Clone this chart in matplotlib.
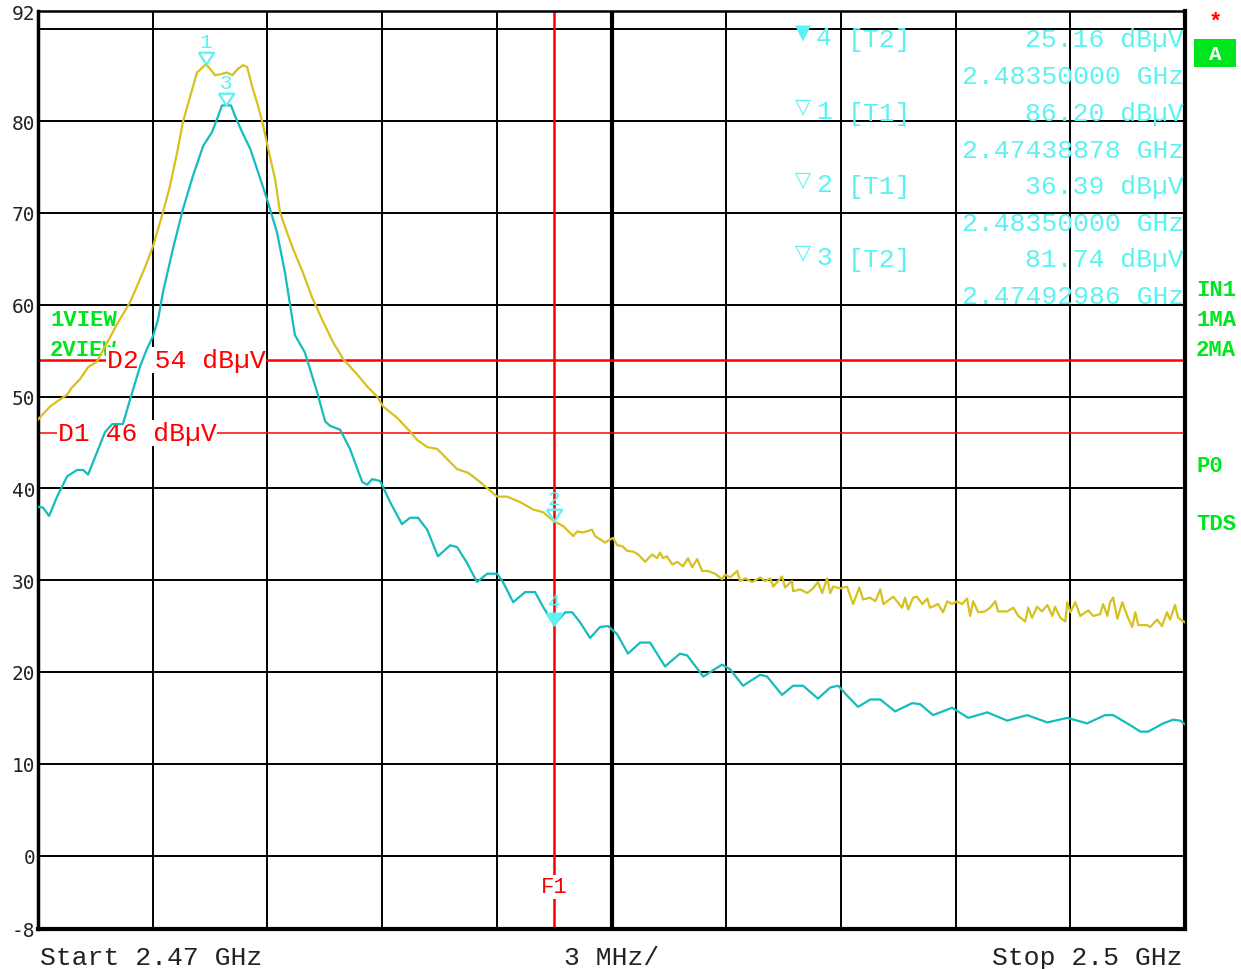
import matplotlib
matplotlib.use("Agg")
import matplotlib.pyplot as plt
from matplotlib.patches import Rectangle

plt.rcParams['axes.unicode_minus'] = False

# frequency axis: MHz above the start frequency (2.47 GHz), span 30 MHz
start_ghz = 2.47
span_mhz = 30.0

# trace 1 (T1, yellow)
t1_off = [0.00, 0.31, 0.58, 0.76, 0.89, 1.10, 1.31, 1.54, 1.81, 2.07,
          2.41, 2.67, 2.85, 3.01, 3.27, 3.45, 3.64, 3.79, 3.98, 4.16,
          4.39, 4.50, 4.63, 4.76, 4.94, 5.08, 5.23, 5.36, 5.47, 5.60,
          5.76, 5.89, 6.02, 6.20, 6.33, 6.51, 6.67, 6.78, 6.93, 7.17,
          7.43, 7.72, 7.98, 8.35, 8.61, 8.87, 9.03, 9.39, 9.73, 9.91,
          10.18, 10.44, 10.70, 10.96, 11.25, 11.56, 12.01, 12.27, 12.61, 12.95,
          13.21, 13.50, 13.73, 14.00, 14.10, 14.26, 14.49, 14.57, 14.83, 15.04,
          15.15, 15.28, 15.41, 15.57, 15.70, 15.88, 16.06, 16.19, 16.27, 16.35,
          16.45, 16.59, 16.72, 16.87, 17.00, 17.11, 17.24, 17.37, 17.53, 17.71,
          17.89, 17.97, 18.10, 18.29, 18.36, 18.50, 18.68, 18.89, 19.02, 19.15,
          19.23, 19.46, 19.54, 19.72, 19.75, 19.93, 20.12, 20.27, 20.40, 20.51,
          20.64, 20.72, 20.80, 20.98, 21.16, 21.32, 21.48, 21.58, 21.77, 21.90,
          22.03, 22.11, 22.37, 22.60, 22.68, 22.76, 22.89, 22.99, 23.13, 23.26,
          23.33, 23.54, 23.67, 23.78, 23.91, 24.04, 24.17, 24.30, 24.38, 24.46,
          24.59, 24.77, 24.90, 25.04, 25.11, 25.35, 25.51, 25.64, 25.82, 25.90,
          26.00, 26.13, 26.26, 26.40, 26.53, 26.60, 26.74, 26.87, 26.92, 27.00,
          27.13, 27.26, 27.47, 27.60, 27.78, 27.86, 27.97, 28.04, 28.12, 28.23,
          28.36, 28.49, 28.62, 28.70, 28.78, 29.01, 29.09, 29.27, 29.40, 29.53,
          29.61, 29.74, 29.82, 30.00]
t1_level = [47.5, 48.9, 49.7, 50.2, 51.0, 51.9, 53.2, 53.8, 55.9, 57.9,
            60.3, 62.8, 64.6, 66.4, 70.1, 72.9, 76.6, 79.9, 82.7, 85.3,
            86.2, 85.7, 85.0, 85.1, 85.3, 85.0, 85.7, 86.1, 85.9, 83.8,
            81.6, 79.5, 77.0, 73.7, 70.1, 67.9, 66.1, 65.0, 63.5, 60.8,
            58.4, 55.9, 54.1, 52.4, 51.1, 50.0, 48.9, 47.7, 46.2, 45.3,
            44.5, 44.3, 43.2, 42.1, 41.7, 40.7, 39.1, 39.1, 38.5, 37.7,
            37.4, 36.4, 35.9, 34.8, 35.3, 35.2, 35.5, 34.8, 34.1, 34.6,
            33.8, 33.7, 33.2, 33.1, 32.8, 32.0, 32.8, 32.4, 33.0, 32.4,
            32.6, 31.7, 32.0, 31.5, 32.4, 31.4, 32.3, 31.0, 31.0, 30.7,
            30.1, 30.6, 30.3, 31.0, 29.9, 30.2, 29.8, 30.3, 29.9, 30.2,
            29.3, 30.4, 29.2, 29.9, 28.8, 29.0, 28.6, 29.1, 29.8, 28.6,
            30.2, 28.6, 29.3, 29.1, 29.3, 27.4, 29.2, 27.9, 28.1, 27.7,
            29.0, 27.4, 28.2, 27.0, 28.1, 26.8, 28.1, 28.2, 27.4, 28.0,
            27.0, 27.4, 26.5, 27.7, 27.4, 27.7, 27.4, 28.0, 26.1, 27.7,
            26.5, 26.6, 27.0, 27.7, 26.6, 26.6, 27.0, 26.1, 25.5, 27.0,
            25.9, 27.1, 26.6, 27.3, 26.1, 27.1, 25.9, 25.5, 27.6, 26.5,
            27.6, 26.1, 26.7, 26.1, 26.3, 27.4, 26.1, 27.6, 28.1, 25.8,
            27.6, 26.1, 24.9, 26.5, 25.1, 25.1, 24.9, 25.7, 25.0, 26.5,
            25.7, 27.3, 25.9, 25.4]

# trace 2 (T2, cyan)
t2_off = [0.00, 0.13, 0.29, 0.50, 0.76, 1.02, 1.18, 1.31, 1.54, 1.75,
          1.94, 2.22, 2.41, 2.67, 2.85, 3.01, 3.14, 3.27, 3.53, 3.79,
          4.05, 4.32, 4.55, 4.68, 4.81, 4.93, 5.05, 5.15, 5.34, 5.55,
          5.76, 5.99, 6.25, 6.46, 6.57, 6.72, 6.98, 7.30, 7.51, 7.64,
          7.90, 8.16, 8.48, 8.61, 8.74, 8.95, 9.21, 9.52, 9.73, 9.94,
          10.18, 10.46, 10.78, 10.96, 11.22, 11.48, 11.75, 12.01, 12.16, 12.43,
          12.74, 13.00, 13.21, 13.50, 13.79, 13.97, 14.18, 14.44, 14.70, 14.91,
          15.15, 15.43, 15.75, 16.01, 16.40, 16.79, 16.98, 17.40, 17.89, 18.10,
          18.44, 18.89, 19.07, 19.46, 19.75, 20.01, 20.40, 20.72, 20.93, 21.19,
          21.45, 21.77, 22.03, 22.42, 22.86, 23.07, 23.41, 23.91, 24.33, 24.83,
          25.35, 25.87, 26.40, 26.92, 27.44, 27.91, 28.12, 28.57, 28.83, 29.04,
          29.43, 29.69, 29.87, 30.00]
t2_level = [38.0, 37.9, 37.0, 39.1, 41.3, 42.0, 42.0, 41.5, 43.9, 46.1,
            47.0, 47.0, 49.7, 53.3, 55.2, 56.6, 58.4, 61.4, 66.1, 70.4,
            74.0, 77.3, 78.8, 80.2, 81.7, 81.74, 81.7, 80.6, 78.8, 77.0,
            74.4, 71.5, 67.9, 63.5, 60.6, 56.7, 54.8, 50.5, 47.3, 46.8,
            46.4, 44.3, 40.7, 40.4, 41.0, 40.8, 38.5, 36.1, 36.8, 36.8,
            35.5, 32.6, 33.8, 33.6, 31.9, 29.8, 30.7, 30.7, 29.8, 27.6,
            28.7, 28.7, 27.1, 25.16, 26.5, 26.5, 25.4, 23.7, 24.9, 25.0,
            24.1, 22.0, 23.2, 23.2, 20.6, 22.0, 21.8, 19.5, 20.8, 20.3,
            18.5, 19.7, 19.5, 17.5, 18.5, 18.5, 17.1, 18.3, 18.5, 17.3,
            16.2, 17.0, 17.0, 15.7, 16.6, 16.5, 15.3, 16.1, 15.0, 15.6,
            14.7, 15.3, 14.5, 15.0, 14.4, 15.3, 15.3, 14.2, 13.5, 13.5,
            14.4, 14.8, 14.7, 14.3]

# markers
mk_names = ['4', '1', '2', '3']
mk_trace = ['T2', 'T1', 'T1', 'T2']
mk_ghz = [2.48350000, 2.47438878, 2.48350000, 2.47492986]
mk_level = [25.16, 86.20, 36.39, 81.74]

# display lines
dl_names = ['D2', 'D1']
dl_level = [54, 46]
f1_ghz = 2.4835

yellow = '#d6c11e'
cyan = '#14bcbc'
mk_col = '#5cf2f2'
green = '#00e61e'
mono = 'Liberation Mono'

fig = plt.figure(figsize=(12.41, 9.70), dpi=100)
ax = fig.add_axes([38 / 1241, 40 / 970, 1147 / 1241, 918 / 970])
ax.set_xlim(0, span_mhz)
ax.set_ylim(-8, 92)

# graticule
for v in range(0, 91, 10):
    ax.axhline(v, color='black', lw=1.4, zorder=1)
for k in range(1, 10):
    ax.axvline(3 * k, color='black', lw=1.4, zorder=1)
ax.axvline(15, color='black', lw=3.0, zorder=1)

ax.set_xticks([])
ax.set_yticks([-8, 0, 10, 20, 30, 40, 50, 60, 70, 80, 92])
ax.tick_params(axis='y', length=0, pad=2, labelsize=14, labelcolor='#222222')
for lbl in ax.get_yticklabels():
    lbl.set_fontfamily('DejaVu Sans Mono')
ax.spines['left'].set_linewidth(2.5)
ax.spines['bottom'].set_linewidth(3.0)
ax.spines['right'].set_linewidth(3.0)
ax.spines['top'].set_linewidth(1.8)

# green view labels (the D2 label covers part of the second one)
ax.text(50 / 1241, 1 - 321 / 970, '1VIEW', transform=fig.transFigure, ha='left', va='center',
        color=green, fontsize=16, family=mono, weight='bold', zorder=2.5)
ax.text(50 / 1241, 1 - 351 / 970, '2VIEW', transform=fig.transFigure, ha='left', va='center',
        color=green, fontsize=16, family=mono, weight='bold', zorder=2.5)

# display lines
for name, lvl in zip(dl_names, dl_level):
    lw = 1.8 if name == 'D2' else 1.1
    ax.axhline(lvl, color='red', lw=lw, zorder=2)
    xpos = 0.060 if name == 'D2' else 0.0174
    ax.text(xpos, lvl, f'{name} {lvl} dB\u00b5V', transform=ax.get_yaxis_transform(),
            ha='left', va='center', color='red', fontsize=19, family=mono, zorder=3,
            bbox=dict(facecolor='white', edgecolor='none', pad=0.5))

f1_off = (f1_ghz - start_ghz) * 1000
ax.axvline(f1_off, color='red', lw=1.8, zorder=2)
ax.text(f1_off, 0.046, 'F1', transform=ax.get_xaxis_transform(), ha='center', va='center',
        color='red', fontsize=16, family=mono, zorder=6,
        bbox=dict(facecolor='white', edgecolor='none', pad=1))

# traces
ax.plot(t1_off, t1_level, color=yellow, lw=1.6, zorder=4)
ax.plot(t2_off, t2_level, color=cyan, lw=1.6, zorder=4)

# markers on the traces
tri = [(-1.3, 2.0), (1.3, 2.0), (0.0, 0.0), (-1.3, 2.0)]
for name, g, lvl in zip(mk_names, mk_ghz, mk_level):
    off = (g - start_ghz) * 1000
    ax.plot([off], [lvl], linestyle='none', marker=tri, ms=17,
            mfc=mk_col if name == '4' else 'none', mec=mk_col, mew=1.6, zorder=5)
    ax.annotate(name, (off, lvl), xytext=(0, 9.5), textcoords='offset points',
                ha='center', va='bottom', color=mk_col, fontsize=15, family=mono, zorder=5)

# marker table
row_y = [40, 77, 114, 151, 187, 224, 260, 297]
for i, (name, tr, g, lvl) in enumerate(zip(mk_names, mk_trace, mk_ghz, mk_level)):
    y1 = 1 - row_y[2 * i] / 970
    y2 = 1 - row_y[2 * i + 1] / 970
    fig.text(803 / 1241, 1 - (row_y[2 * i] - 7) / 970, '\u25bc' if name == '4' else '\u25bd',
             ha='center', va='center', color=mk_col, fontsize=15, family='DejaVu Sans')
    fig.text(816 / 1241, y1 + 0.002, name, ha='left', va='center', color=mk_col, fontsize=19, family=mono)
    fig.text(848 / 1241, y1, f'[{tr}]', ha='left', va='center', color=mk_col, fontsize=19, family=mono)
    fig.text(1184 / 1241, y1, f'{lvl:.2f} dB\u00b5V', ha='right', va='center',
             color=mk_col, fontsize=19, family=mono)
    fig.text(1184 / 1241, y2, f'{g:.8f} GHz', ha='right', va='center',
             color=mk_col, fontsize=19, family=mono)

# right-hand status labels
for txt, yy in [('IN1', 291), ('1MA', 321), ('2MA', 351), ('P0', 466), ('TDS', 525)]:
    fig.text(1196 / 1241, 1 - yy / 970, txt, ha='left', va='center', color=green,
             fontsize=16, family=mono, weight='bold')
fig.text(1215 / 1241, 1 - 22 / 970, '*', ha='center', va='center', color='red',
         fontsize=16, family=mono, weight='bold')
fig.patches.append(Rectangle((1194 / 1241, 1 - 68 / 970), 42 / 1241, 28 / 970,
                             transform=fig.transFigure, facecolor=green, edgecolor='none'))
fig.text(1215 / 1241, 1 - 54 / 970, 'A', ha='center', va='center', color='white',
         fontsize=15, family=mono, weight='bold')

# bottom labels
fig.text(40 / 1241, 1 - 958 / 970, f'Start {start_ghz:g} GHz', ha='left', va='center',
         color='#222222', fontsize=19, family=mono)
fig.text(612 / 1241, 1 - 958 / 970, f'{span_mhz / 10:g} MHz/', ha='center', va='center',
         color='#222222', fontsize=19, family=mono)
fig.text(1183 / 1241, 1 - 958 / 970, f'Stop {start_ghz + span_mhz / 1000:g} GHz', ha='right',
         va='center', color='#222222', fontsize=19, family=mono)

fig.savefig('out.png', dpi=100)
